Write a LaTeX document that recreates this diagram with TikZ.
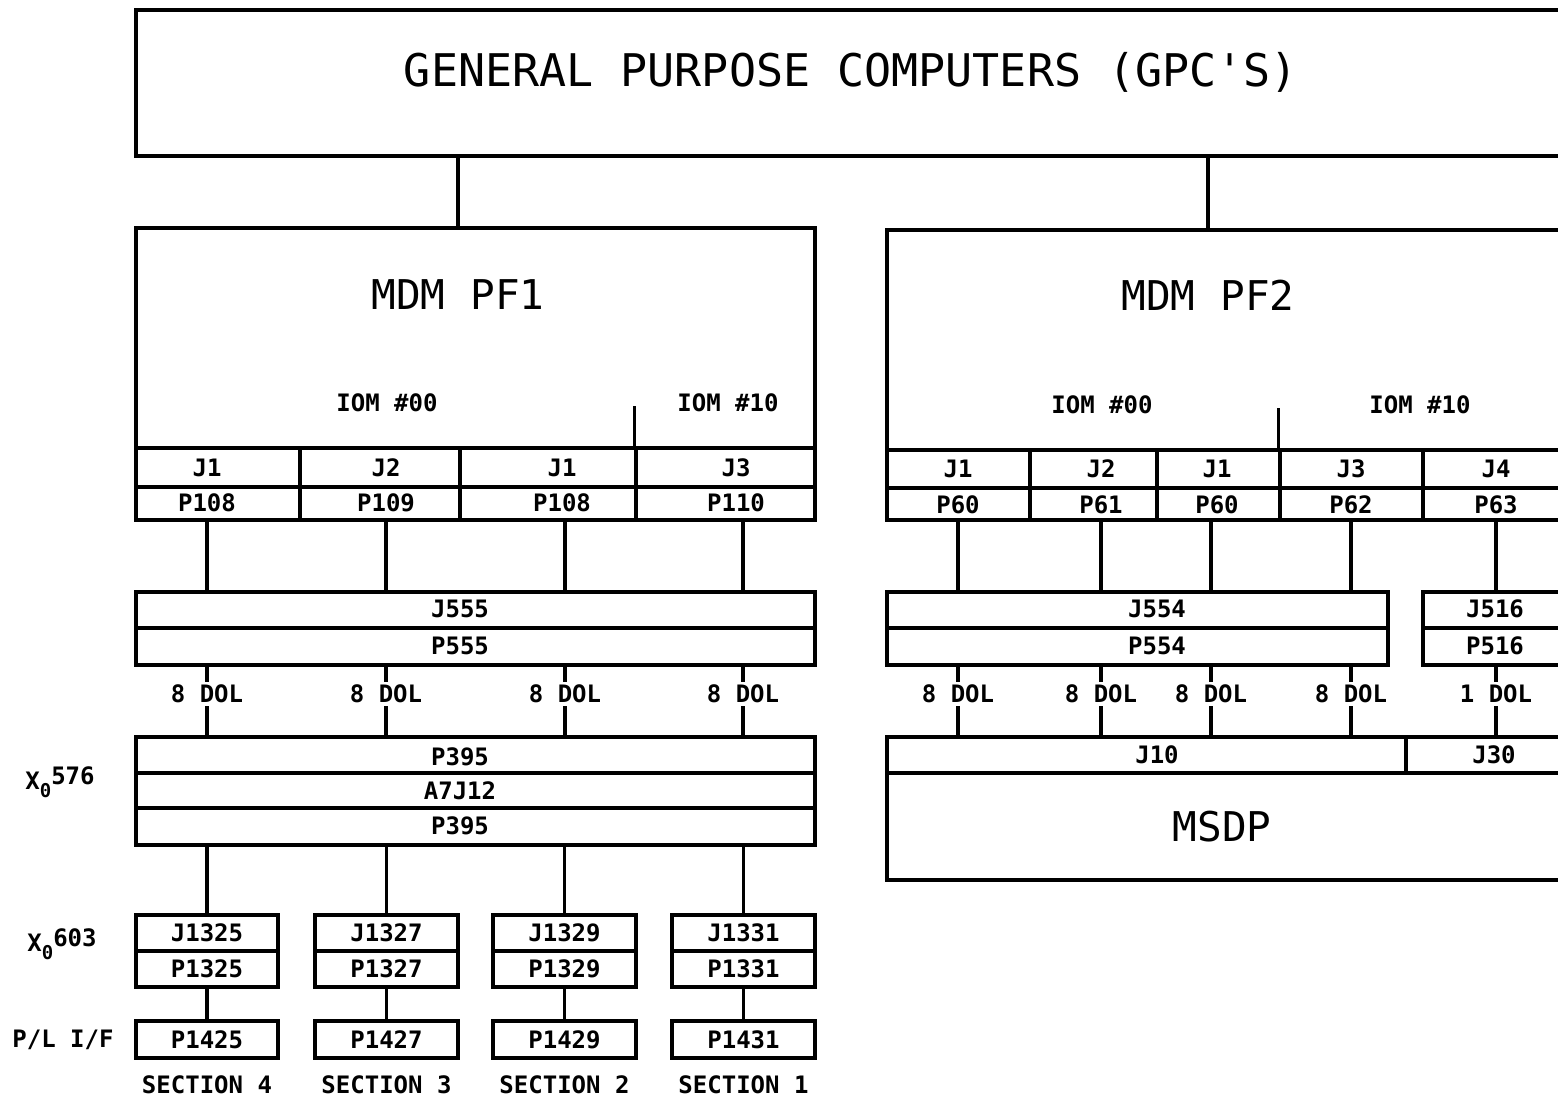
\documentclass[tikz,border=0pt]{standalone}
\usepackage{fontspec}
\newfontfamily\dvmono{DejaVu Sans Mono}
\usetikzlibrary{fit,calc}
\newcommand\lblf{\dvmono\bfseries\fontsize{12}{13}\selectfont}
\newcommand\bigf{\dvmono\fontsize{22.5}{24}\selectfont}
\newcommand\midf{\dvmono\fontsize{20.5}{22}\selectfont}
\begin{document}
\begin{tikzpicture}[x=0.5pt,y=-0.5pt,
  bx/.style={draw, line width=1.6pt, inner sep=0pt, rectangle},
  lb/.style={font=\lblf, inner sep=1pt},
  wire/.style={line width=1.6pt},
  dol/.style={font=\lblf, fill=white, inner sep=1.5pt, pos=0.4}]
\useasboundingbox (0,0) rectangle (1558,1097);
\clip (0,0) rectangle (1558,1097);
\fill[white] (0,0) rectangle (1558,1097);

% ---------- GPC ----------
\node[bx, fit={(136,10)(1566,156)}] (gpc) {};
\node[font=\bigf] (gpct) at (851,72) {GENERAL PURPOSE COMPUTERS (GPC'S)};

% ---------- MDM PF1 ----------
\node[bx, fit={(136,228)(815,520)}] (pf1) {};
\node[font=\midf] (pf1t) at (458,295) {MDM PF1};
\node[lb] (iom00a) at (387,403) {IOM \#00};
\node[lb] (iom10a) at (728,403) {IOM \#10};
\foreach \n/\a/\b in {1/136/300, 2/300/460, 3/460/636, 4/636/815} {
  \node[bx, fit={(\a,448)(\b,487)}] (ja\n) {};
  \node[bx, fit={(\a,487)(\b,520)}] (pa\n) {};
}
\foreach \n/\x/\j/\p in {1/207/J1/P108, 2/386/J2/P109, 3/562/J1/P108, 4/736/J3/P110} {
  \node[lb] (jal\n) at (\x,468) {\j};
  \node[lb] (pal\n) at (\x,503) {\p};
}
\draw[wire] (ja4.north west) -- ++(0,-40);

\node[bx, fit={(136,592)(815,628)}] (j555) {};
\node[bx, fit={(136,628)(815,665)}] (p555) {};
\node[lb] (j555t) at (460,609) {J555};
\node[lb] (p555t) at (460,646) {P555};

\node[bx, fit={(136,737)(815,773)}] (p395a) {};
\node[bx, fit={(136,773)(815,808)}] (a7j12) {};
\node[bx, fit={(136,808)(815,845)}] (p395b) {};
\node[lb] (p395at) at (460,757) {P395};
\node[lb] (a7j12t) at (460,791) {A7J12};
\node[lb] (p395bt) at (460,826) {P395};

\foreach \n/\a/\b/\j/\p/\q/\s in {1/136/278/J1325/P1325/P1425/4, 2/315/458/J1327/P1327/P1427/3, 3/493/636/J1329/P1329/P1429/2, 4/672/815/J1331/P1331/P1431/1} {
  \node[bx, fit={(\a,915)(\b,951)}] (js\n) {};
  \node[lb] (jst\n) at (js\n.center) {\j};
  \node[bx, fit={(\a,951)(\b,987)}] (ps\n) {};
  \node[lb] (pst\n) at (ps\n.center) {\p};
  \node[bx, fit={(\a,1021)(\b,1058)}] (pl\n) {};
  \node[lb] (plt\n) at (pl\n.center) {\q};
  \node[lb] (sec\n) at ($(\a,1085)!0.5!(\b,1085)$) {SECTION \s};
}

\node[lb] (xo576) at (60,782) {X\raisebox{-4pt}{\fontsize{9.5}{9.5}\selectfont 0}\raisebox{2.5pt}{576}};
\node[lb] (xo603) at (62,944) {X\raisebox{-4pt}{\fontsize{9.5}{9.5}\selectfont 0}\raisebox{2.5pt}{603}};
\node[lb] (plif) at (63,1040) {P/L I/F};

% ---------- MDM PF2 ----------
\node[bx, fit={(887,230)(1566,520)}] (pf2) {};
\node[font=\midf] (pf2t) at (1208,295) {MDM PF2};
\node[lb] (iom00b) at (1102,405) {IOM \#00};
\node[lb] (iom10b) at (1420,405) {IOM \#10};
\foreach \n/\a/\b/\x/\j/\p in {1/887/1030/958/J1/P60, 2/1030/1157/1101/J2/P61, 3/1157/1280/1217/J1/P60, 4/1280/1423/1351/J3/P62, 5/1423/1566/1496/J4/P63} {
  \node[bx, fit={(\a,450)(\b,488)}] (jb\n) {};
  \node[bx, fit={(\a,488)(\b,520)}] (pb\n) {};
  \node[lb] (jbl\n) at (\x,469) {\j};
  \node[lb] (pbl\n) at (\x,505) {\p};
}
\draw[wire] (jb4.north west) -- ++(0,-40);

\node[bx, fit={(887,592)(1388,628)}] (j554) {};
\node[bx, fit={(887,628)(1388,665)}] (p554) {};
\node[lb] (j554t) at (1157,609) {J554};
\node[lb] (p554t) at (1157,646) {P554};
\node[bx, fit={(1423,592)(1566,628)}] (j516) {};
\node[bx, fit={(1423,628)(1566,665)}] (p516) {};
\node[lb] (j516t) at (1495,609) {J516};
\node[lb] (p516t) at (1495,646) {P516};

\node[bx, fit={(887,737)(1406,773)}] (j10) {};
\node[bx, fit={(1406,737)(1566,773)}] (j30) {};
\node[lb] (j10t) at (1157,755) {J10};
\node[lb] (j30t) at (1494,755) {J30};
\node[bx, fit={(887,773)(1566,880)}] (msdp) {};
\node[font=\midf] (msdpt) at (1222,827) {MSDP};

% ---------- connectors ----------
\draw[wire] (gpc.south -| pf1t) -- (pf1.north -| pf1t);
\draw[wire] (gpc.south -| pf2t) -- (pf2.north -| pf2t);

\foreach \n/\x in {1/207,2/386,3/565,4/743} {
  \coordinate (cl\n) at (\x,0);
  \draw[wire] (pa\n.south -| cl\n) -- (j555.north -| cl\n);
  \draw[wire] (p555.south -| cl\n) -- node[dol] (dola\n) {8 DOL} (p395a.north -| cl\n);
  \draw[wire] (p395b.south -| js\n.north) -- (js\n.north);
  \draw[wire] (ps\n.south) -- (pl\n.north);
}

\foreach \n/\x in {1/958,2/1101,3/1211,4/1351} {
  \coordinate (cr\n) at (\x,0);
  \draw[wire] (pb\n.south -| cr\n) -- (j554.north -| cr\n);
  \draw[wire] (p554.south -| cr\n) -- node[dol] (dolb\n) {8 DOL} (j10.north -| cr\n);
}
\coordinate (cr5) at (1496,0);
\draw[wire] (pb5.south -| cr5) -- (j516.north -| cr5);
\draw[wire] (p516.south -| cr5) -- node[dol] (dolb5) {1 DOL} (j30.north -| cr5);
\end{tikzpicture}
\end{document}
